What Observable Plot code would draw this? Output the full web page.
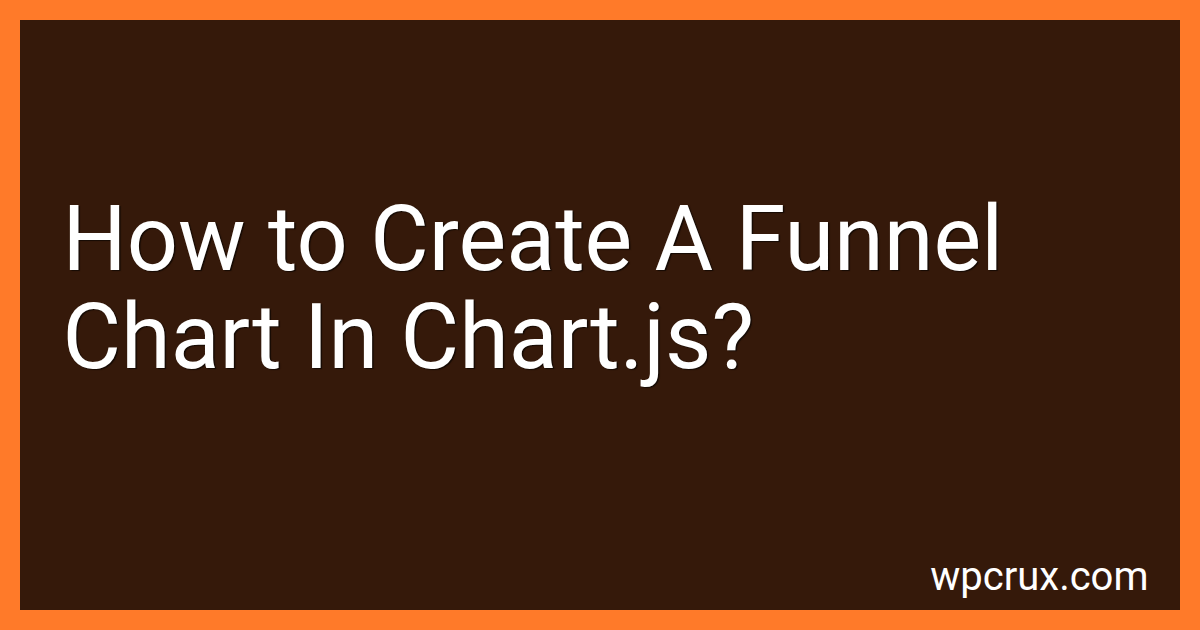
<!DOCTYPE html>
<html>
<head>
<meta charset="utf-8">
<script src="https://cdn.jsdelivr.net/npm/d3@7"></script>
<script src="https://cdn.jsdelivr.net/npm/@observablehq/plot@0.6"></script>
<style>
  html, body { margin: 0; padding: 0; background: #FF7A29; }
  #chart svg { display: block; }
  #chart text.title-text { text-shadow: 1.5px 1.5px 1px rgba(0,0,0,0.6); }
</style>
</head>
<body>
<div id="chart"></div>
<script>
// Content of the card
const titleLines = ["How to Create A Funnel", "Chart In Chart.js?"];
const siteLabel = ["wpcrux.com"];

const W = 1200, H = 630, border = 20;
const titleData = titleLines.map((t, i) => ({text: t, line: i}));
const footerData = siteLabel.map(t => ({text: t}));

const titleSize = 90, lineGap = 98, titleX = 62, firstBaseline = 269;

const chart = Plot.plot({
  width: W,
  height: H,
  margin: 0,
  x: {domain: [0, W], range: [0, W], axis: null},
  y: {domain: [0, H], range: [0, H], axis: null},
  style: {background: "#FF7A29", fontFamily: "Roboto"},
  marks: [
    Plot.rect([0], {x1: border, x2: W - border, y1: border, y2: H - border, fill: "#35190A"}),
    Plot.text(titleData, {
      x: titleX, y: d => firstBaseline + d.line * lineGap, text: "text",
      textAnchor: "start", lineAnchor: "bottom",
      fontSize: titleSize, fontFamily: "Roboto", fill: "#ffffff",
      className: "title-text"
    }),
    Plot.text(footerData, {
      x: W - border - 32, y: 589, text: "text",
      textAnchor: "end", lineAnchor: "bottom",
      fontSize: 40, fontFamily: "Roboto", fill: "#ffffff"
    })
  ]
});
chart.querySelectorAll("g[aria-label='text']").forEach((g, i) => {
  if (i === 0) g.querySelectorAll("text").forEach(t => t.classList.add("title-text"));
});
document.getElementById("chart").appendChild(chart);
</script>
</body>
</html>
